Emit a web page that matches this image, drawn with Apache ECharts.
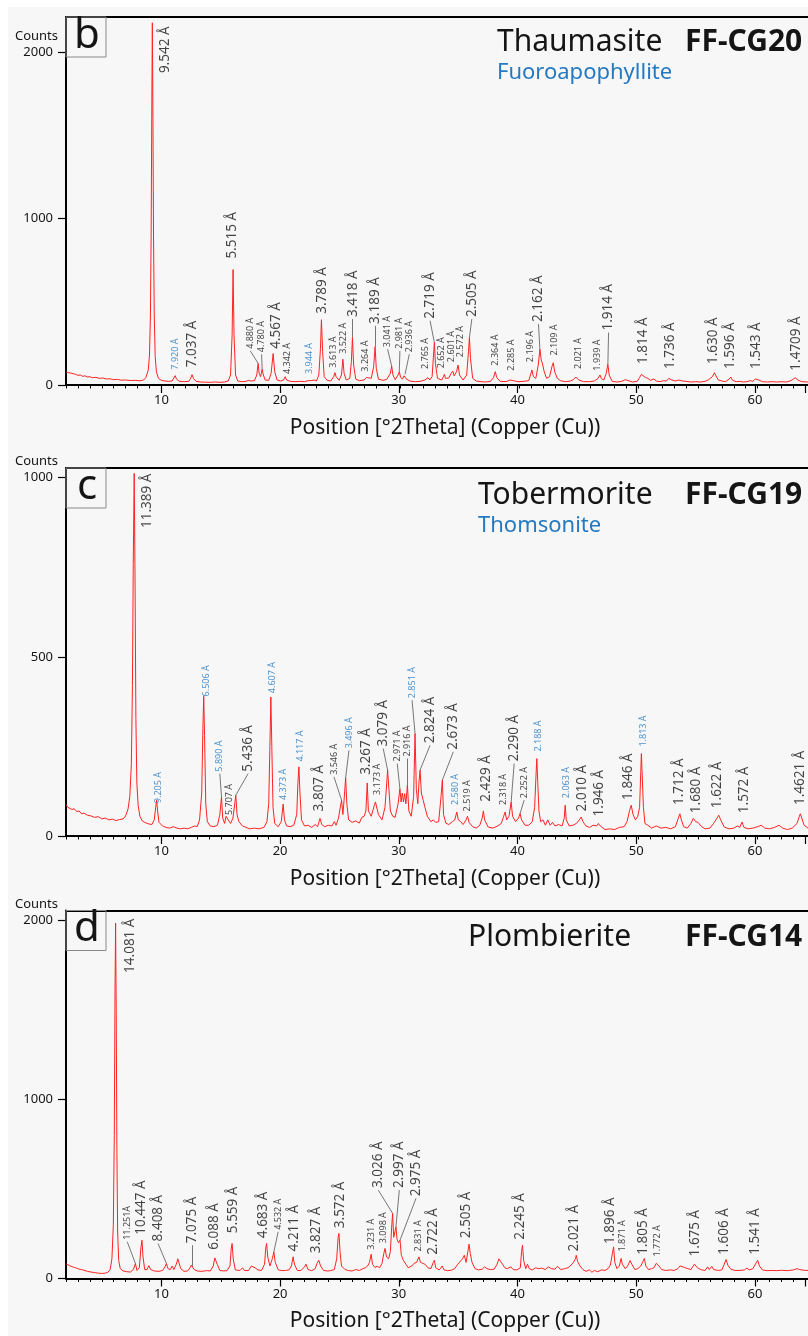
<!DOCTYPE html>
<html><head><meta charset="utf-8">
<script src="https://cdn.jsdelivr.net/npm/echarts@6/dist/echarts.min.js"></script>
<style>
html,body{margin:0;padding:0;background:#fff;}
#bg{position:absolute;left:8px;top:7px;width:800px;height:1329px;background:#f7f7f7;}
#c{position:absolute;left:0;top:0;width:808px;height:1336px;}
</style>
</head><body><div id="bg"></div><div id="c"></div>
<script>
// ---------- DATA ----------
const xTickValues = [10, 20, 30, 40, 50, 60];
const axisTitle = 'Position [°2Theta] (Copper (Cu))';

// Panel b : Thaumasite / Fuoroapophyllite  (2Theta, counts)
const profileB = [[2.0,78],[2.1,70],[2.2,74],[2.35,66],[2.5,70],[2.65,62],[2.8,64],[3.0,58],[3.2,60],[3.4,52],[3.6,55],[3.8,48],[4.0,50],[4.2,44],[4.5,46],[4.8,40],[5.1,42],[5.4,36],[5.7,37],[6.0,32],[6.3,34],[6.6,29],[7.0,30],[7.4,27],[7.8,28],[8.2,25],[8.5,30],[8.7,45],[8.9,90],[9.0,180],[9.08,420],[9.14,900],[9.19,1600],[9.24,2175],[9.29,1600],[9.34,900],[9.4,420],[9.48,170],[9.58,80],[9.75,40],[10.0,28],[10.3,24],[10.6,22],[10.9,24],[11.05,35],[11.16,56],[11.26,36],[11.5,22],[11.9,20],[12.3,22],[12.45,40],[12.57,62],[12.7,38],[12.9,22],[13.3,18],[13.7,17],[14.1,16],[14.5,18],[14.9,16],[15.3,18],[15.6,24],[15.8,60],[15.93,300],[16.01,693],[16.09,300],[16.22,60],[16.4,24],[16.8,20],[17.1,22],[17.3,28],[17.5,24],[17.8,26],[18.0,60],[18.11,130],[18.2,70],[18.32,50],[18.45,96],[18.55,60],[18.7,30],[19.0,28],[19.2,70],[19.37,189],[19.5,80],[19.7,30],[20.0,24],[20.25,30],[20.38,50],[20.5,30],[20.8,22],[21.2,20],[21.6,22],[22.0,20],[22.3,26],[22.45,32],[22.55,26],[22.8,30],[23.0,24],[23.2,60],[23.34,220],[23.42,392],[23.52,200],[23.65,50],[23.9,28],[24.2,24],[24.45,50],[24.55,74],[24.65,50],[24.9,28],[25.1,60],[25.22,155],[25.32,70],[25.5,30],[25.8,40],[25.93,140],[26.02,285],[26.12,120],[26.3,35],[26.6,26],[27.0,30],[27.2,45],[27.26,54],[27.35,35],[27.6,40],[27.8,110],[27.92,231],[28.02,100],[28.2,35],[28.6,28],[28.9,34],[29.2,70],[29.31,114],[29.42,60],[29.6,32],[29.85,60],[29.95,80],[30.05,48],[30.2,35],[30.35,55],[30.43,64],[30.55,35],[30.9,22],[31.3,20],[31.7,22],[32.1,30],[32.25,38],[32.35,44],[32.5,30],[32.7,50],[32.82,180],[32.89,255],[32.98,130],[33.15,40],[33.5,30],[33.65,50],[33.73,64],[33.82,40],[34.1,42],[34.3,70],[34.43,84],[34.55,55],[34.75,80],[34.88,120],[35.0,60],[35.3,30],[35.6,60],[35.75,200],[35.83,285],[35.92,160],[36.1,40],[36.4,24],[36.8,20],[37.2,18],[37.6,22],[37.85,45],[38.0,80],[38.12,45],[38.4,22],[38.9,20],[39.25,30],[39.38,40],[39.5,26],[39.9,20],[40.4,22],[40.8,26],[40.95,60],[41.07,90],[41.2,50],[41.4,40],[41.6,120],[41.74,215],[41.85,150],[41.95,130],[42.1,80],[42.3,40],[42.55,50],[42.75,110],[42.86,134],[42.98,80],[43.2,40],[43.5,25],[43.9,20],[44.3,24],[44.55,32],[44.75,48],[44.85,50],[45.0,30],[45.4,20],[45.9,20],[46.3,24],[46.6,38],[46.78,60],[46.9,38],[47.1,30],[47.3,70],[47.44,125],[47.55,60],[47.8,22],[48.2,18],[48.6,22],[48.9,32],[49.05,20],[49.5,18],[49.9,22],[50.1,45],[50.25,64],[50.4,52],[50.6,45],[50.8,40],[51.0,28],[51.3,36],[51.5,24],[51.8,20],[52.1,26],[52.35,24],[52.55,40],[52.68,48],[52.8,30],[53.1,24],[53.4,30],[53.7,24],[54.0,22],[54.4,18],[54.8,20],[55.2,18],[55.6,22],[55.9,32],[56.2,50],[56.38,74],[56.5,55],[56.7,30],[57.0,24],[57.3,20],[57.6,35],[57.75,48],[57.9,28],[58.2,20],[58.5,22],[58.8,18],[59.1,20],[59.4,26],[59.6,22],[59.8,36],[59.95,44],[60.1,30],[60.4,20],[60.8,18],[61.2,20],[61.6,18],[62.0,20],[62.4,18],[62.8,26],[63.0,36],[63.18,44],[63.35,30],[63.7,20],[64.2,18],[64.6,20],[65.0,18],[65.5,20],[66,18],[67,20],[68,18],[69,20],[70,18]];

// Panel c : Tobermorite / Thomsonite
const profileC = [[2.0,88],[2.15,80],[2.3,84],[2.5,74],[2.7,76],[2.9,68],[3.1,70],[3.3,62],[3.5,64],[3.8,58],[4.1,56],[4.4,52],[4.7,54],[5.0,48],[5.3,50],[5.6,45],[5.9,47],[6.2,43],[6.5,46],[6.8,48],[7.0,56],[7.2,75],[7.35,110],[7.48,200],[7.57,420],[7.64,760],[7.72,1012],[7.79,720],[7.86,330],[7.94,150],[8.05,85],[8.2,55],[8.4,42],[8.6,38],[8.9,34],[9.2,32],[9.4,45],[9.52,80],[9.6,100],[9.68,70],[9.8,38],[10.1,28],[10.4,24],[10.7,22],[11.0,26],[11.3,22],[11.6,20],[11.9,22],[12.2,20],[12.5,24],[12.8,28],[13.0,26],[13.2,45],[13.38,120],[13.48,300],[13.55,390],[13.62,280],[13.72,90],[13.85,40],[14.1,28],[14.4,26],[14.7,30],[14.9,60],[15.04,109],[15.14,50],[15.3,35],[15.42,55],[15.5,60],[15.6,45],[15.8,35],[16.0,50],[16.15,90],[16.24,114],[16.34,60],[16.5,40],[16.8,28],[17.1,24],[17.4,20],[17.8,22],[18.2,20],[18.6,24],[18.85,40],[19.0,90],[19.1,250],[19.18,388],[19.26,250],[19.36,80],[19.5,35],[19.8,26],[20.05,40],[20.21,89],[20.32,45],[20.5,28],[20.8,26],[21.1,30],[21.35,60],[21.45,150],[21.53,193],[21.62,120],[21.75,45],[22.0,28],[22.3,30],[22.6,24],[22.9,32],[23.1,26],[23.3,49],[23.45,32],[23.7,26],[24.0,30],[24.3,28],[24.5,40],[24.65,30],[24.85,50],[25.0,80],[25.11,100],[25.22,60],[25.32,100],[25.45,163],[25.55,90],[25.7,45],[26.0,38],[26.3,42],[26.6,36],[26.8,52],[27.0,55],[27.15,70],[27.26,148],[27.36,70],[27.6,55],[27.85,85],[27.95,95],[28.05,100],[28.2,60],[28.5,45],[28.75,80],[28.9,150],[28.97,184],[29.06,140],[29.2,70],[29.4,55],[29.6,52],[29.85,90],[30.0,132],[30.1,95],[30.2,120],[30.3,95],[30.4,118],[30.5,90],[30.63,142],[30.75,70],[30.95,55],[31.15,110],[31.27,286],[31.38,130],[31.5,90],[31.6,150],[31.69,184],[31.8,120],[31.95,100],[32.1,80],[32.3,55],[32.6,40],[32.8,45],[33.0,38],[33.25,40],[33.45,110],[33.56,156],[33.66,60],[33.85,36],[34.1,32],[34.4,40],[34.6,45],[34.77,67],[34.9,45],[35.1,40],[35.3,32],[35.55,45],[35.67,55],[35.8,38],[36.1,26],[36.4,22],[36.7,30],[36.9,50],[37.0,70],[37.1,45],[37.4,25],[37.8,22],[38.2,28],[38.5,35],[38.7,55],[38.83,67],[38.95,45],[39.15,55],[39.33,95],[39.45,55],[39.7,40],[39.95,50],[40.08,63],[40.2,45],[40.5,30],[40.8,30],[41.1,40],[41.3,80],[41.4,160],[41.48,216],[41.56,150],[41.66,70],[41.8,40],[42.0,45],[42.2,30],[42.4,45],[42.6,30],[42.8,38],[43.0,28],[43.3,32],[43.6,28],[43.78,50],[43.86,86],[43.95,45],[44.2,28],[44.5,30],[44.8,35],[45.05,45],[45.2,53],[45.35,40],[45.6,28],[45.9,24],[46.2,30],[46.5,28],[46.64,35],[46.8,28],[47.2,18],[47.6,20],[48.0,18],[48.4,24],[48.8,26],[49.05,40],[49.25,70],[49.4,86],[49.55,60],[49.75,45],[49.95,55],[50.1,80],[50.2,180],[50.25,230],[50.32,170],[50.42,80],[50.55,35],[50.8,30],[51.1,22],[51.5,28],[51.9,22],[52.3,24],[52.7,20],[53.1,26],[53.35,50],[53.48,62],[53.6,45],[53.8,26],[54.1,22],[54.4,35],[54.6,49],[54.8,40],[55.0,38],[55.3,26],[55.6,20],[56.0,22],[56.3,35],[56.5,45],[56.74,58],[56.9,45],[57.2,25],[57.6,20],[58.0,22],[58.3,28],[58.5,24],[58.69,39],[58.85,24],[59.2,20],[59.6,22],[60.0,26],[60.3,30],[60.6,22],[61.0,20],[61.4,24],[61.8,30],[62.1,22],[62.5,18],[62.9,22],[63.3,35],[63.5,55],[63.58,62],[63.7,50],[63.9,30],[64.3,20],[65,20],[66,18],[67,20],[68,18],[69,20],[70,18]];

// Panel d : Plombierite
const profileD = [[2.0,82],[2.15,75],[2.3,72],[2.5,66],[2.7,62],[2.9,58],[3.1,52],[3.3,50],[3.5,46],[3.8,40],[4.1,36],[4.4,33],[4.7,30],[5.0,28],[5.3,30],[5.5,34],[5.7,50],[5.85,110],[5.97,300],[6.05,800],[6.11,1600],[6.16,1987],[6.21,1500],[6.27,700],[6.33,260],[6.42,100],[6.55,55],[6.8,42],[7.1,38],[7.4,36],[7.65,50],[7.82,84],[7.95,45],[8.15,60],[8.28,170],[8.37,214],[8.46,120],[8.6,50],[8.8,50],[8.95,72],[9.1,50],[9.4,42],[9.8,40],[10.1,45],[10.3,65],[10.42,84],[10.55,55],[10.75,50],[10.9,70],[11.05,50],[11.25,80],[11.38,110],[11.5,100],[11.62,55],[11.9,40],[12.2,42],[12.4,60],[12.5,75],[12.6,65],[12.75,50],[13.0,42],[13.4,40],[13.8,44],[14.1,42],[14.35,70],[14.48,115],[14.56,125],[14.68,80],[14.9,45],[15.2,42],[15.5,44],[15.75,70],[15.86,170],[15.93,196],[16.02,110],[16.2,48],[16.6,45],[16.8,60],[16.95,45],[17.3,44],[17.55,70],[17.7,75],[17.85,60],[18.1,48],[18.4,45],[18.65,80],[18.75,170],[18.82,196],[18.92,120],[19.1,70],[19.3,110],[19.43,149],[19.55,90],[19.8,48],[20.1,44],[20.4,45],[20.7,48],[20.9,70],[21.05,121],[21.15,80],[21.4,45],[21.7,44],[22.0,65],[22.12,80],[22.3,50],[22.6,44],[22.9,55],[23.05,85],[23.2,102],[23.35,70],[23.6,45],[23.9,42],[24.2,44],[24.5,50],[24.7,110],[24.82,230],[24.89,252],[24.98,150],[25.1,70],[25.25,80],[25.4,50],[25.7,44],[26.0,42],[26.3,50],[26.6,45],[26.9,55],[27.1,60],[27.3,70],[27.45,90],[27.59,136],[27.7,80],[27.9,62],[28.1,68],[28.3,60],[28.5,85],[28.65,140],[28.75,168],[28.88,120],[29.05,110],[29.2,150],[29.32,300],[29.39,364],[29.48,230],[29.58,260],[29.67,289],[29.76,220],[29.88,200],[30.01,214],[30.12,130],[30.3,100],[30.5,80],[30.7,60],[30.85,50],[31.0,70],[31.2,85],[31.4,90],[31.6,121],[31.72,90],[31.9,85],[32.1,80],[32.35,60],[32.6,55],[32.8,90],[32.89,102],[33.0,60],[33.3,48],[33.55,70],[33.7,48],[34.0,44],[34.3,46],[34.6,55],[34.85,80],[35.0,75],[35.25,110],[35.4,130],[35.55,90],[35.7,150],[35.8,192],[35.9,140],[36.05,90],[36.3,55],[36.6,48],[36.9,52],[37.1,65],[37.3,55],[37.6,50],[37.9,52],[38.15,80],[38.3,110],[38.45,95],[38.6,80],[38.8,60],[39.0,55],[39.3,65],[39.5,50],[39.8,48],[40.1,60],[40.2,150],[40.28,186],[40.38,100],[40.55,55],[40.7,80],[40.85,55],[41.1,48],[41.4,60],[41.6,55],[41.9,58],[42.2,50],[42.45,65],[42.7,55],[43.0,52],[43.2,68],[43.5,50],[43.8,55],[44.1,60],[44.35,75],[44.55,90],[44.72,110],[44.79,130],[44.9,95],[45.1,70],[45.35,50],[45.6,40],[45.9,48],[46.1,35],[46.3,45],[46.6,38],[46.9,48],[47.2,45],[47.45,55],[47.65,75],[47.82,140],[47.92,177],[48.02,90],[48.2,55],[48.4,70],[48.55,112],[48.65,80],[48.9,55],[49.1,70],[49.3,100],[49.45,80],[49.7,50],[49.95,55],[50.2,70],[50.38,95],[50.5,112],[50.62,70],[50.85,50],[51.1,55],[51.3,60],[51.5,85],[51.6,93],[51.72,70],[51.95,50],[52.3,45],[52.7,48],[53.0,45],[53.3,55],[53.5,70],[53.65,60],[53.85,62],[54.0,72],[54.15,55],[54.4,50],[54.7,80],[54.8,87],[54.95,60],[55.3,48],[55.6,45],[55.8,65],[55.95,50],[56.15,68],[56.3,50],[56.7,45],[57.0,48],[57.2,80],[57.35,106],[57.5,75],[57.75,52],[58.1,45],[58.5,45],[58.9,48],[59.1,58],[59.3,48],[59.6,55],[59.85,85],[60.0,102],[60.15,70],[60.4,48],[60.8,44],[61.2,45],[61.6,44],[62.0,46],[62.5,44],[63.0,48],[63.3,55],[63.5,50],[64.0,45],[64.5,46],[65,44],[66,45],[67,44],[68,45],[69,44],[70,44]];

// Peak annotations: [text, label 2Theta, label base counts, peak 2Theta, peak counts, size L/S, colour k/b, leader 0/1]
const labelsB = [
 ['9.542 Å',10.34,1861,9.24,2175,'L','k',0],['7.920 Å',11.17,80,11.16,56,'S','b',0],['7.037 Å',12.57,94,12.57,62,'L','k',0],
 ['5.515 Å',15.97,747,16.01,693,'L','k',0],['4.880 Å',17.45,205,18.11,130,'S','k',1],['4.780 Å',18.4,185,18.45,96,'S','k',1],
 ['4.567 Å',19.62,205,19.37,189,'L','k',0],['4.342 Å',20.55,54,20.38,50,'S','k',0],['3.944 Å',22.45,54,22.45,32,'S','b',0],
 ['3.789 Å',23.52,416,23.42,392,'L','k',0],['3.613 Å',24.4,92,24.55,74,'S','k',0],['3.522 Å',25.25,175,25.22,155,'S','k',0],
 ['3.418 Å',26.04,396,26.02,285,'L','k',1],['3.264 Å',27.15,68,27.26,54,'S','k',0],['3.189 Å',27.91,355,27.92,231,'L','k',1],
 ['3.041 Å',28.97,215,29.31,114,'S','k',1],['2.981 Å',30.0,205,29.95,80,'S','k',1],['2.936 Å',30.79,185,30.43,64,'S','k',1],
 ['2.765 Å',32.11,84,32.35,44,'S','k',0],['2.719 Å',32.53,386,32.89,255,'L','k',1],['2.652 Å',33.51,88,33.73,64,'S','k',0],
 ['2.601 Å',34.35,125,34.43,84,'S','k',0],['2.572 Å',35.05,155,34.88,120,'S','k',0],['2.505 Å',36.03,396,35.83,285,'L','k',1],
 ['2.364 Å',37.99,104,38.0,80,'S','k',0],['2.285 Å',39.39,74,39.38,40,'S','k',0],['2.196 Å',40.92,125,41.07,90,'S','k',0],
 ['2.162 Å',41.62,366,41.74,215,'L','k',1],['2.109 Å',42.94,165,42.86,134,'S','k',0],['2.021 Å',44.98,84,44.85,50,'S','k',0],
 ['1.939 Å',46.58,74,46.78,60,'S','k',0],['1.914 Å',47.5,315,47.44,125,'L','k',1],['1.814 Å',50.44,114,50.25,64,'L','k',0],
 ['1.736 Å',52.68,84,52.68,48,'L','k',0],['1.630 Å',56.31,114,56.38,74,'L','k',0],['1.596 Å',57.72,84,57.75,48,'L','k',0],
 ['1.543 Å',59.9,84,59.95,44,'L','k',0],['1.4709 Å',63.26,74,63.18,44,'L','k',0]
];
const labelsC = [
 ['11.389 Å',8.79,854,7.72,1012,'L','k',0],['9.205 Å',9.72,86,9.6,100,'S','b',0],['6.506 Å',13.78,384,13.55,390,'S','b',0],
 ['5.890 Å',14.9,174,15.04,109,'S','b',1],['5.707 Å',15.68,53,15.5,60,'S','k',0],['5.436 Å',17.27,174,16.24,114,'L','k',1],
 ['4.607 Å',19.32,393,19.18,388,'S','b',0],['4.373 Å',20.27,95,20.21,89,'S','b',0],['4.117 Å',21.7,202,21.53,193,'S','b',0],
 ['3.807 Å',23.23,63,23.3,49,'L','k',0],['3.546 Å',24.47,165,25.11,100,'S','k',1],['3.496 Å',25.73,239,25.45,163,'S','b',1],
 ['3.267 Å',27.13,165,27.26,148,'L','k',0],['3.173 Å',28.1,109,28.05,100,'S','k',0],['3.079 Å',28.6,244,28.97,184,'L','k',1],
 ['2.971 Å',29.78,202,30.0,132,'S','k',1],['2.916 Å',30.62,216,30.63,142,'S','k',1],['2.851 Å',31.02,379,31.27,286,'S','b',1],
 ['2.824 Å',32.53,253,31.69,184,'L','k',1],['2.673 Å',34.48,235,33.56,156,'L','k',1],['2.580 Å',34.69,81,34.77,67,'S','b',0],
 ['2.519 Å',35.69,63,35.67,55,'S','k',0],['2.429 Å',37.2,90,37.0,70,'L','k',0],['2.318 Å',38.68,81,38.83,67,'S','k',0],
 ['2.290 Å',39.58,202,39.33,95,'L','k',1],['2.252 Å',40.42,100,40.08,63,'S','k',1],['2.188 Å',41.62,230,41.48,216,'S','b',0],
 ['2.063 Å',44.0,100,43.86,86,'S','b',0],['2.010 Å',45.32,63,45.2,53,'L','k',0],['1.946 Å',46.72,49,46.64,35,'L','k',0],
 ['1.846 Å',49.13,95,49.4,86,'L','k',0],['1.813 Å',50.39,244,50.25,230,'S','b',0],['1.712 Å',53.38,81,53.48,62,'L','k',0],
 ['1.680 Å',54.86,58,54.6,49,'L','k',0],['1.622 Å',56.6,72,56.74,58,'L','k',0],['1.572 Å',58.83,58,58.69,39,'L','k',0],
 ['1.4621 Å',63.59,81,63.58,62,'L','k',0]
];
const labelsD = [
 ['14.081 Å',7.42,1697,6.16,1987,'L','k',0],['11.251Å',7.14,205,7.82,84,'S','k',1],['10.447 Å',8.32,233,8.37,214,'L','k',0],
 ['8.408 Å',9.72,196,10.42,84,'L','k',1],['7.075 Å',12.6,186,12.6,65,'L','k',1],['6.088 Å',14.39,149,14.56,125,'L','k',0],
 ['5.559 Å',16.01,242,15.93,196,'L','k',0],['4.683 Å',18.53,214,18.82,196,'L','k',0],['4.532 Å',19.79,261,19.43,149,'S','k',1],
 ['4.211 Å',21.11,140,21.05,121,'L','k',0],['3.827 Å',23.01,130,23.2,102,'L','k',0],['3.572 Å',24.97,270,24.89,252,'L','k',0],
 ['3.231 Å',27.63,149,27.59,136,'S','k',0],['3.098 Å',28.66,186,28.75,168,'S','k',0],['3.026 Å',28.19,494,29.39,364,'L','k',1],
 ['2.997 Å',29.95,494,29.67,289,'L','k',1],['2.975 Å',31.35,448,30.01,214,'L','k',1],['2.831 Å',31.55,140,31.6,121,'S','k',0],
 ['2.722 Å',32.8,121,32.89,102,'L','k',0],['2.505 Å',35.55,214,35.8,192,'L','k',0],['2.245 Å',40.08,205,40.28,186,'L','k',0],
 ['2.021 Å',44.62,140,44.79,130,'L','k',0],['1.896 Å',47.64,181,47.92,177,'L','k',0],['1.871 Å',48.7,140,48.55,112,'S','k',0],
 ['1.805 Å',50.38,121,50.5,112,'L','k',0],['1.772 Å',51.56,112,51.6,93,'S','k',0],['1.675 Å',54.72,112,54.8,87,'L','k',0],
 ['1.606 Å',57.15,121,57.35,106,'L','k',0],['1.541 Å',59.82,121,60.0,102,'L','k',0]
];

const panelLetters = ['b', 'c', 'd'];
const phaseNames = ['Thaumasite', 'Tobermorite', 'Plombierite'];
const secondPhases = ['Fuoroapophyllite', 'Thomsonite', ''];
const sampleNames = ['FF-CG20', 'FF-CG19', 'FF-CG14'];
const yTickMaxes = [2000, 1000, 2000];
const yIntervals = [1000, 500, 1000];
const yMaxes = [2210, 1027, 2057];

// ---------- LAYOUT / STYLE ----------
const FONT = '"Noto Sans", "Open Sans", "DejaVu Sans", sans-serif';
const RED = '#ff2222', BLUE = '#2479c2', INK = '#151515';
const X0 = 2, PXD = 11.925, LEFT = 66, W = 808;
const X1 = X0 + (W - LEFT) / PXD;   // visible end of the 2Theta axis (plot continues past the page edge)
const tops = [17, 468, 910.5];
const H = 368;
const profiles = [profileB, profileC, profileD];
const labelSets = [labelsB, labelsC, labelsD];
const titleLeft = [497, 478, 468];
const titleY = [42, 495, 937];

const grid = [], xAxis = [], yAxis = [], series = [], graphic = [];
for (let i = 0; i < 3; i++) {
  const top = tops[i];
  const gMain = grid.length;
  grid.push({left: LEFT, top: top, width: W - LEFT, height: H, show: false});
  xAxis.push({gridIndex: gMain, type: 'value', min: X0, max: X1, interval: 1, position: 'bottom',
    axisLine: {show: true, lineStyle: {color: '#000', width: 2}},
    axisTick: {show: true, length: 3.5, lineStyle: {color: '#000', width: 1}},
    axisLabel: {show: false}, splitLine: {show: false}});
  yAxis.push({gridIndex: gMain, type: 'value', min: 0, max: yMaxes[i],
    axisLine: {show: true, lineStyle: {color: '#000', width: 2}},
    axisTick: {show: false}, axisLabel: {show: false}, splitLine: {show: false}});
  // top frame line
  const gT = grid.length;
  grid.push({left: LEFT, top: top, width: W - LEFT, height: H, show: false});
  xAxis.push({gridIndex: gT, type: 'value', min: X0, max: X1, position: 'top',
    axisLine: {show: true, onZero: false, lineStyle: {color: '#000', width: 2}},
    axisTick: {show: false}, axisLabel: {show: false}, splitLine: {show: false}});
  yAxis.push({gridIndex: gT, type: 'value', show: false, min: 0, max: 1});

  // major x ticks + labels
  const gX = grid.length;
  grid.push({left: LEFT + (xTickValues[0] - X0) * PXD, top: top, width: (X1 - xTickValues[0]) * PXD, height: H, show: false});
  xAxis.push({gridIndex: gX, type: 'value', min: xTickValues[0], max: X1, interval: 10,
    axisLine: {show: false}, axisTick: {show: true, length: 8, lineStyle: {color: '#000', width: 1.2}},
    axisLabel: {show: true, fontSize: 13, color: INK, fontFamily: FONT, margin: 9,
      formatter: v => (xTickValues.indexOf(Math.round(v)) >= 0 && Math.abs(v - Math.round(v)) < 1e-6) ? String(Math.round(v)) : ''},
    splitLine: {show: false}});
  yAxis.push({gridIndex: gX, type: 'value', show: false, min: 0, max: 1});

  // y ticks + labels
  const gY = grid.length;
  const hTick = H * yTickMaxes[i] / yMaxes[i];
  grid.push({left: LEFT, top: top + H - hTick, width: 100, height: hTick, show: false});
  xAxis.push({gridIndex: gY, type: 'value', show: false, min: 0, max: 1});
  yAxis.push({gridIndex: gY, type: 'value', min: 0, max: yTickMaxes[i], interval: yIntervals[i],
    axisLine: {show: false}, axisTick: {show: true, length: 8, lineStyle: {color: '#000', width: 1.2}},
    axisLabel: {show: true, fontSize: 13, color: INK, fontFamily: FONT, margin: 13, formatter: v => String(v)},
    splitLine: {show: false}});

  series.push({type: 'line', xAxisIndex: gMain, yAxisIndex: gMain, data: profiles[i], symbol: 'none',
    lineStyle: {color: RED, width: 1}, silent: true, z: 3});

  const labs = labelSets[i];
  series.push({type: 'lines', coordinateSystem: 'cartesian2d', xAxisIndex: gMain, yAxisIndex: gMain, silent: true, z: 2,
    lineStyle: {color: '#555', width: 0.8, opacity: 1},
    data: labs.filter(l => l[7]).map(l => ({coords: [[l[1], l[2]], [l[3], l[4]]]}))});
  series.push({type: 'scatter', xAxisIndex: gMain, yAxisIndex: gMain, symbolSize: 0.01, silent: true, z: 4,
    itemStyle: {color: 'rgba(0,0,0,0)'},
    label: {show: true, formatter: '{b}', position: 'top', distance: 2, rotate: 90, align: 'left', verticalAlign: 'middle', fontFamily: FONT},
    data: labs.map(l => ({name: l[0], value: [l[1], l[2]],
      label: {fontSize: l[5] === 'L' ? 13.5 : 9, color: l[6] === 'b' ? BLUE : INK}}))});

  // panel letter box
  graphic.push({type: 'rect', shape: {x: LEFT, y: top, width: 40, height: 40}, style: {fill: 'none', stroke: '#8a8a8a', lineWidth: 1}, z: 10});
  graphic.push({type: 'text', x: LEFT + 21, y: top + 19, style: {text: panelLetters[i], font: '42px ' + FONT, fill: INK,
    textAlign: 'center', textVerticalAlign: 'middle', align: 'center', verticalAlign: 'middle'}, z: 10});
  // Counts
  graphic.push({type: 'text', x: 58, y: top + H - hTick - 16, style: {text: 'Counts', font: '13px ' + FONT, fill: INK,
    textAlign: 'right', textVerticalAlign: 'middle', align: 'right', verticalAlign: 'middle'}, z: 10});
  // phase titles
  graphic.push({type: 'text', x: titleLeft[i], y: titleY[i], style: {text: phaseNames[i], font: '30px ' + FONT, fill: INK,
    textAlign: 'left', textVerticalAlign: 'middle', align: 'left', verticalAlign: 'middle'}, z: 10});
  graphic.push({type: 'text', x: 685, y: titleY[i], style: {text: sampleNames[i], font: 'bold 30px ' + FONT, fill: INK,
    textAlign: 'left', textVerticalAlign: 'middle', align: 'left', verticalAlign: 'middle'}, z: 10});
  if (secondPhases[i]) {
    graphic.push({type: 'text', x: titleLeft[i], y: titleY[i] + 31, style: {text: secondPhases[i], font: '22px ' + FONT, fill: BLUE,
      textAlign: 'left', textVerticalAlign: 'middle', align: 'left', verticalAlign: 'middle'}, z: 10});
  }
  // axis title
  graphic.push({type: 'text', x: 445, y: top + H + 43, style: {text: axisTitle, font: '21px ' + FONT, fill: INK,
    textAlign: 'center', textVerticalAlign: 'middle', align: 'center', verticalAlign: 'middle'}, z: 10});
}

const chart = echarts.init(document.getElementById('c'), null, {renderer: 'canvas'});
chart.setOption({backgroundColor: 'transparent', animation: false, grid, xAxis, yAxis, series, graphic});
</script>
</body></html>
